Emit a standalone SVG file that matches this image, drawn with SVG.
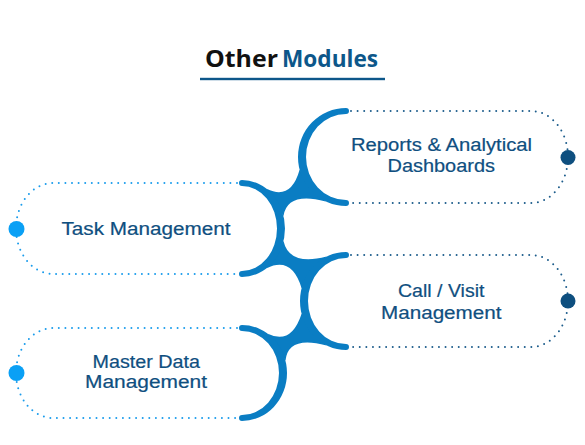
<svg xmlns="http://www.w3.org/2000/svg" width="585" height="445" viewBox="0 0 585 445">
<style>
.bg{fill:#ffffff}
.arc{fill:#0a7dc3}
.dotR{fill:none;stroke:#1d5d8c;stroke-width:2;stroke-dasharray:0 6.6;stroke-linecap:round}
.dotL{fill:none;stroke:#1a9cec;stroke-width:2;stroke-dasharray:0 6.6;stroke-linecap:round}
.endR{fill:#0e4f7f}
.endL{fill:#0aa0f5}
.lbl{font-family:"Liberation Sans",Arial,sans-serif;font-size:17.5px;font-weight:400;fill:#0f4f80;stroke:#0f4f80;stroke-width:0.2}
.ttl{font-family:"Open Sans","Liberation Sans",sans-serif;font-size:24px;font-weight:700}
</style>
<rect class="bg" x="0" y="0" width="585" height="445"/>
<g id="title">
<text class="ttl" x="205" y="67" fill="#111111" textLength="73" lengthAdjust="spacingAndGlyphs">Other</text>
<text class="ttl" x="282" y="67" fill="#0d578a" textLength="96" lengthAdjust="spacingAndGlyphs">Modules</text>
<rect x="200" y="77.8" width="185" height="2.4" fill="#0d578a"/>
</g>
<g id="connectors">
<path class="arc" d="M266.7,188.8 Q290.9,200.8 299.6,169.7 L325.7,201.4 Q287.4,191.4 283.5,215.9 Z"/>
<path class="arc" d="M266.7,268.2 Q291.9,255.8 301.6,288.3 L326.6,256.6 Q289,266.2 283.5,241.1 Z"/>
<path class="arc" d="M267.8,333.7 Q291.3,345.3 301.6,313.7 L326.6,345.4 Q288,335 285.5,360.6 Z"/>
</g>
<g id="node-reports">
<path class="dotR" d="M351,111 H531 A37,46 0 0 1 568,157 A37,46 0 0 1 531,203 H351"/>
<circle class="endR" cx="568" cy="157.5" r="7.5"/>
<path class="arc" d="M346,108 A48,49 0 0 0 346,206 A3,3 0 0 0 346,200 A40,43 0 0 1 346,114 A3,3 0 0 0 346,108 Z"/>
<text class="lbl" x="351" y="151" textLength="181" lengthAdjust="spacingAndGlyphs">Reports &amp; Analytical</text>
<text class="lbl" x="387.5" y="172" textLength="107.5" lengthAdjust="spacingAndGlyphs">Dashboards</text>
</g>
<g id="node-task">
<path class="dotL" d="M237,183 H53 A37,45.5 0 0 0 16,228.5 A37,45.5 0 0 0 53,274 H237"/>
<circle class="endL" cx="16.5" cy="229" r="8"/>
<path class="arc" d="M242,180 A43,48.5 0 0 1 242,277 A3,3 0 0 1 242,271 A35,42.5 0 0 0 242,186 A3,3 0 0 1 242,180 Z"/>
<text class="lbl" x="61.5" y="235" textLength="169" lengthAdjust="spacingAndGlyphs">Task Management</text>
</g>
<g id="node-call">
<path class="dotR" d="M351,255 H531 A37,46 0 0 1 568,301 A37,46 0 0 1 531,347 H351"/>
<circle class="endR" cx="568" cy="301" r="7.5"/>
<path class="arc" d="M346,252 A46,49 0 0 0 346,350 A3,3 0 0 0 346,344 A38,43 0 0 1 346,258 A3,3 0 0 0 346,252 Z"/>
<text class="lbl" x="398" y="297" textLength="86.5" lengthAdjust="spacingAndGlyphs">Call / Visit</text>
<text class="lbl" x="381" y="319" textLength="120.5" lengthAdjust="spacingAndGlyphs">Management</text>
</g>
<g id="node-master">
<path class="dotL" d="M237,328 H53 A37,45 0 0 0 16,373 A37,45 0 0 0 53,418 H237"/>
<circle class="endL" cx="16.5" cy="373" r="8"/>
<path class="arc" d="M242,325 A45,48 0 0 1 242,421 A3,3 0 0 1 242,415 A37,42 0 0 0 242,331 A3,3 0 0 1 242,325 Z"/>
<text class="lbl" x="92.5" y="367.5" textLength="107.5" lengthAdjust="spacingAndGlyphs">Master Data</text>
<text class="lbl" x="85" y="388" textLength="122" lengthAdjust="spacingAndGlyphs">Management</text>
</g>
</svg>
